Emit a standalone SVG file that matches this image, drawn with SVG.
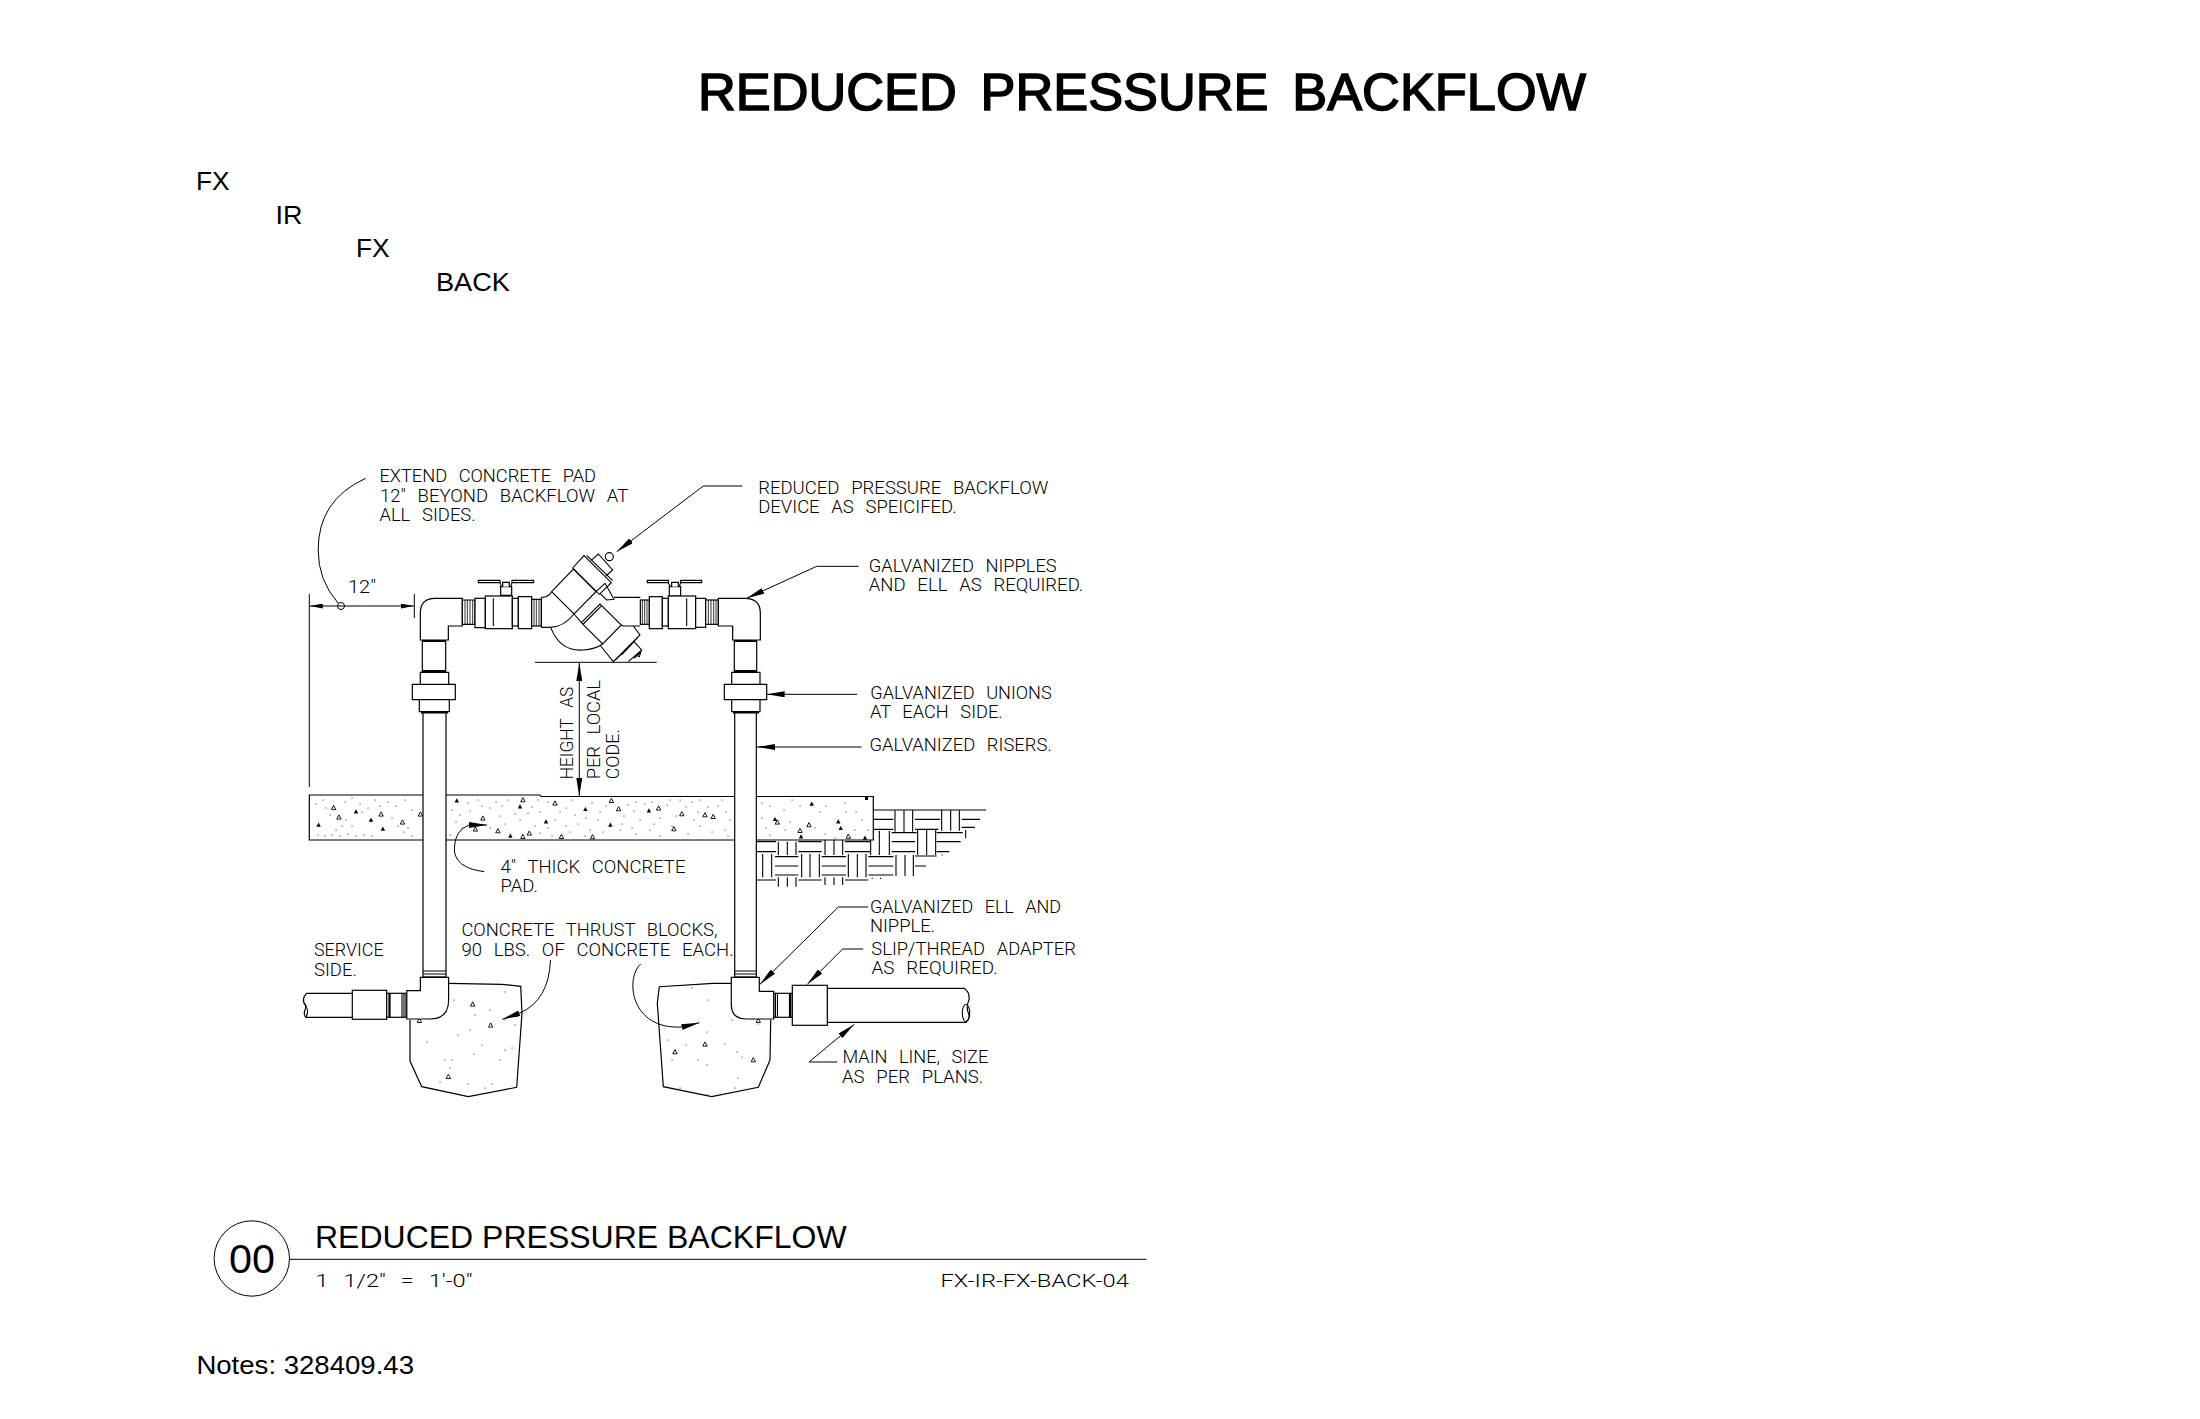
<svg xmlns="http://www.w3.org/2000/svg" width="2200" height="1419" viewBox="0 0 2200 1419">
<style>
.l{fill:none;stroke:#000;stroke-width:1.1}
.w{fill:#fff;stroke:#000;stroke-width:1.2}
.z{fill:none;stroke:#000;stroke-width:3.3}
.zh{fill:none;stroke:#000;stroke-width:2.4}
.zw{fill:#fff;stroke:#000;stroke-width:3.6}
.k{fill:none;stroke:#000;stroke-width:2.2}
.d{fill:none;stroke:#000;stroke-width:1.05;stroke-linecap:round}
.a{fill:none;stroke:#000;stroke-width:1}
.t{font-family:Roboto,"Liberation Sans",sans-serif;font-weight:300;font-size:18px;word-spacing:7px;fill:#000}
.s{font-family:"Liberation Sans",Arial,sans-serif;fill:#000}
.tf{fill:#000;stroke:none}
.to{fill:#fff;stroke:#000;stroke-width:.9}
</style>
<defs>
<marker id="ah" viewBox="0 0 18 6" refX="18" refY="3" markerWidth="18" markerHeight="6" markerUnits="userSpaceOnUse" orient="auto"><path d="M0,0 L18,3 L0,6z" fill="#000"/></marker>
<marker id="ad" viewBox="0 0 13 5" refX="13" refY="2.5" markerWidth="13" markerHeight="5" markerUnits="userSpaceOnUse" orient="auto"><path d="M0,0 L13,2.5 L0,5z" fill="#000"/></marker>
<path id="tr" d="M-2.2,1.8 L0,-2.4 L2.2,1.8z"/>
</defs>

<text id="title" x="698" y="110" class="s" font-size="51" font-weight="400" stroke="#000" stroke-width="1.5" word-spacing="9" textLength="888" lengthAdjust="spacingAndGlyphs">REDUCED PRESSURE BACKFLOW</text>

<g id="path-labels" class="s" font-size="25.6">
<text x="196" y="190" textLength="33.6" lengthAdjust="spacingAndGlyphs">FX</text>
<text x="275.6" y="224" textLength="27" lengthAdjust="spacingAndGlyphs">IR</text>
<text x="356" y="256.7" textLength="33.6" lengthAdjust="spacingAndGlyphs">FX</text>
<text x="436" y="290.7" textLength="74" lengthAdjust="spacingAndGlyphs">BACK</text>
</g>

<g id="subgrade-hatch" transform="translate(740 790) scale(.33333)">
<path class="z" d="M395 60H738M400 88H460M400 118H460M465 60V125M492 60V125M518 60V125M525 88H600M525 118H595M605 60V122M632 60V122M658 60V122M665 88H720M665 112H705M677 120V145M392 122V195M418 122V195M448 122V195M455 128H530M455 155H525M455 185H525M533 120V195M560 120V195M587 120V195M590 128H668M590 155H662M590 185H628M605 195h3M50 155H108M50 185H108M115 155V195M142 155V195M168 155V195M175 155H245M175 185H245M255 150V195M282 150V195M308 150V195M315 155H390M315 185H390M68 192V262M95 192V262M105 200H175M105 228H175M105 255H175M185 192V262M210 192V262M238 192V262M245 200H318M245 228H318M245 255H318M325 192V262M352 192V262M378 192V262M385 200H460M385 228H460M385 255H460M468 195V258M495 195V258M520 195V258M525 198H590M525 228H558M50 270H108M115 262V290M142 262V290M168 262V290M175 270H245M255 262V285M282 262V285M308 262V285M315 270H385M395 265h3M420 265h3"/>
</g>

<g id="concrete-pad">
<path class="w" d="M309.3,795H540L541,796.5H873.3V840H309.3Z"/>
<path class="d" d="M316 804h.1M323 800h.1M330 815h.1M345 802h.1M352 798h.1M360 804h.1M368 808h.1M375 800h.1M388 802h.1M396 806h.1M405 800h.1M412 810h.1M346 820h.1M352 826h.1M362 812h.1M392 818h.1M404 832h.1M398 826h.1M318 835h.1M325 836h.1M332 835h.1M340 836h.1M348 834h.1M356 836h.1M364 835h.1M372 836h.1M412 836h.1M408 828h.1M336 830h.1M452 810h.1M460 815h.1M468 803h.1M478 800h.1M490 808h.1M502 806h.1M515 814h.1M532 807h.1M540 812h.1M548 802h.1M566 808h.1M575 815h.1M592 803h.1M600 812h.1M628 805h.1M636 802h.1M645 804h.1M667 805h.1M680 800h.1M692 802h.1M700 800h.1M718 806h.1M726 812h.1M660 818h.1M640 820h.1M622 824h.1M598 820h.1M578 824h.1M555 820h.1M535 826h.1M520 820h.1M505 824h.1M490 828h.1M462 828h.1M450 835h.1M540 833h.1M552 836h.1M570 832h.1M585 836h.1M603 832h.1M620 830h.1M636 834h.1M650 830h.1M660 836h.1M672 826h.1M688 834h.1M700 826h.1M712 832h.1M725 830h.1M730 820h.1M762 803h.1M770 806h.1M784 810h.1M792 800h.1M800 806h.1M820 812h.1M826 806h.1M845 803h.1M856 812h.1M862 820h.1M868 830h.1M762 818h.1M766 828h.1M770 835h.1M785 830h.1M790 822h.1M815 828h.1M825 834h.1M835 838h.1M855 830h.1M846 812h.1M470 811h.1M482 806h.1M496 802h.1M508 800h.1M528 813h.1M538 800h.1M560 812h.1M572 800h.1M586 818h.1M606 806h.1M624 816h.1M634 811h.1M652 802h.1M670 800h.1M686 807h.1M698 812h.1M708 807h.1M722 800h.1M728 836h.1M694 820h.1M676 816h.1M654 824h.1M632 828h.1M590 830h.1M566 826h.1M548 828h.1M500 816h.1M456 822h.1M380 806h.1M326 808h.1M342 826h.1"/>
<use href="#tr" class="to" x="333.6" y="807.7"/><use href="#tr" class="to" x="338.9" y="817.3"/><use href="#tr" class="to" x="381.1" y="814.3"/><use href="#tr" class="tf" x="356" y="811.7"/><use href="#tr" class="tf" x="371" y="820"/><use href="#tr" class="tf" x="382.9" y="829"/><use href="#tr" class="to" x="402.5" y="822.3"/><use href="#tr" class="to" x="420.4" y="814.3"/><use href="#tr" class="tf" x="318.6" y="825"/><use href="#tr" class="tf" x="456.8" y="800.7"/><use href="#tr" class="to" x="522.9" y="800"/><use href="#tr" class="tf" x="520" y="806.7"/><use href="#tr" class="to" x="555" y="803.3"/><use href="#tr" class="tf" x="585.4" y="809.3"/><use href="#tr" class="to" x="611.4" y="800.7"/><use href="#tr" class="to" x="618.6" y="809"/><use href="#tr" class="tf" x="648.9" y="810.7"/><use href="#tr" class="to" x="658.6" y="808.3"/><use href="#tr" class="to" x="681.8" y="814"/><use href="#tr" class="to" x="705" y="815"/><use href="#tr" class="to" x="713.2" y="816.7"/><use href="#tr" class="to" x="482.9" y="818.3"/><use href="#tr" class="to" x="475.4" y="829.3"/><use href="#tr" class="to" x="497.9" y="831"/><use href="#tr" class="tf" x="510.4" y="836"/><use href="#tr" class="to" x="522.9" y="836.7"/><use href="#tr" class="to" x="529.3" y="833.3"/><use href="#tr" class="to" x="561.4" y="836.7"/><use href="#tr" class="to" x="592.5" y="837"/><use href="#tr" class="tf" x="610.4" y="825"/><use href="#tr" class="tf" x="546" y="821.7"/><use href="#tr" class="to" x="673.9" y="829"/><use href="#tr" class="tf" x="811.7" y="804"/><use href="#tr" class="tf" x="775" y="819.3"/><use href="#tr" class="to" x="777.3" y="822.3"/><use href="#tr" class="to" x="800" y="830.7"/><use href="#tr" class="to" x="809" y="825"/><use href="#tr" class="tf" x="801" y="836.7"/><use href="#tr" class="tf" x="838.3" y="821.7"/><use href="#tr" class="tf" x="840.7" y="828.3"/><use href="#tr" class="to" x="848.3" y="836.5"/><use href="#tr" class="tf" x="865" y="838"/><rect x="865" y="797" width="3" height="3" fill="#000"/>
</g>

<g id="thrust-block-left">
<path class="w" d="M448.3,983.3L501.7,984.3L520.7,986.3L522,1013L516.7,1087.3L468.3,1096.7L421.7,1086.7L410,1061V1020"/>
<path class="d" d="M505,992h.1M454,1000h.1M475,1015h.1M490,1010h.1M505,1020h.1M515,1025h.1M458,1035h.1M470,1030h.1M482,1045h.1M474,1054h.1M505,1050h.1M512,1048h.1M500,1060h.1M445,1060h.1M452,1060h.1M450,1068h.1M440,1082h.1M468,1084h.1M485,1088h.1M492,1084h.1M427,1042h.1"/>
<use href="#tr" class="to" x="472.7" y="1004.3"/><use href="#tr" class="to" x="490.7" y="1025.3"/><use href="#tr" class="to" x="448.3" y="1076.7"/><use href="#tr" class="to" x="419.3" y="1020.7"/>
</g>
<g id="thrust-block-right">
<path class="w" d="M731.7,983.3H713.3L659.3,986.7L657.3,1003L663.3,1086.7L711.7,1096.7L758.3,1087.3L770,1060L770.7,1020"/>
<path class="d" d="M692,988h.1M708,1000h.1M732,1020h.1M758,1024h.1M668,1040h.1M686,1045h.1M707,1032h.1M725,1044h.1M672,1060h.1M698,1060h.1M707,1065h.1M737,1052h.1M742,1057h.1M738,1078h.1M680,1088h.1M707,1095h.1M735,1088h.1"/>
<use href="#tr" class="to" x="705" y="1044.3"/><use href="#tr" class="to" x="675" y="1052"/><use href="#tr" class="to" x="753.3" y="1060"/><use href="#tr" class="to" x="758.3" y="1020.7"/>
</g>

<g id="riser-left">
<rect class="w" x="423" y="712" width="23" height="265"/>
<path class="l" d="M423,971H446M423,974H446"/>
<rect class="w" x="422.3" y="640" width="23.4" height="32"/>
<path class="k" d="M422.3,641H445.7M422.3,671H445.7M421,712.3H448"/>
<path class="w" d="M420.3,672.3H448.7V684.3H420.3ZM412.3,684.3H455.3V699.7H412.3ZM419.3,699.7H449.3V711.7H419.3Z"/>
</g>
<g id="riser-right">
<rect class="w" x="734.7" y="712" width="21.6" height="265"/>
<path class="l" d="M734.7,971H756.3M734.7,974H756.3"/>
<rect class="w" x="734.3" y="640" width="22.4" height="32"/>
<path class="k" d="M734.3,641H756.7M734.3,671H756.7M733,712.3H759"/>
<path class="w" d="M731.7,672.3H760V684.3H731.7ZM724.3,684.3H766.7V699.7H724.3ZM731.7,699.7H760V711.7H731.7Z"/>
</g>

<g id="backflow-assembly" transform="translate(410 540) scale(.33333)">
<path class="zw" d="M157 175H75Q31 175 31 220V300H115V258H157Z"/>
<path class="zw" d="M157 180H195V253H157Z"/>
<path class="zh" d="M165 180V253M172 180V253M180 180V253M188 180V253"/>
<rect class="zw" x="195" y="175" width="31" height="88"/>
<rect class="zw" x="226" y="168" width="81" height="98"/>
<path class="z" d="M250 175V258"/>
<rect class="zw" x="307" y="175" width="18" height="83"/>
<rect class="zw" x="325" y="170" width="40" height="96"/>
<rect class="zw" x="365" y="178" width="29" height="80"/>
<path class="zh" d="M372 178V258M379 178V258M387 178V258"/>
<path class="zw" d="M272 166V140H305V166Z"/>
<path class="zw" d="M278 140V127H298V140"/>
<path class="z" d="M205 121H270V128H205ZM306 121H371V128H306ZM270 128L274 140M306 128L302 140"/>
<path class="zw" d="M712 121H775V128H712ZM812 121H875V128H812Z"/>
<path class="zw" d="M778 168V140H812V168Z"/>
<path class="zw" d="M785 140V127H805V140"/>
<path class="z" d="M775 128L781 140M812 128L808 140"/>
<rect class="zw" x="691" y="180" width="27" height="73"/>
<path class="zh" d="M697 180V253M704 180V253M711 180V253"/>
<rect class="zw" x="718" y="170" width="39" height="96"/>
<rect class="zw" x="757" y="175" width="18" height="83"/>
<rect class="zw" x="775" y="168" width="82" height="98"/>
<path class="z" d="M830 175V258"/>
<rect class="zw" x="857" y="175" width="30" height="87"/>
<rect class="zw" x="887" y="180" width="38" height="73"/>
<path class="zh" d="M895 180V253M903 180V253M911 180V253M918 180V253"/>
<path class="zw" d="M925 175H1005Q1051 175 1051 220V300H968V258H925Z"/>
<path class="z" d="M394 172V262M394 172Q415 172 425 155M394 262H420Q460 262 492 222M422 262Q450 335 520 330Q555 328 578 312"/>
<path class="z" d="M425 155L490 87L558 155L492 222ZM488 84L522 47L604 128L568 163ZM530 46L608 122M543 62L565 42L608 90L588 108M558 155L585 130L612 178L590 180L570 160"/>
<circle class="z" cx="598" cy="50" r="12"/>
<path class="z" d="M612 172H691M634 255L640 258H691M492 222L514 248L570 192L634 255L578 312L514 248M520 252L575 197M572 318L610 365L690 285L670 258M616 360L684 292M635 345L672 305L695 330L655 365M672 355L692 337L688 350L678 345"/>
</g>

<g id="bottom-fittings">
<path class="w" d="M352.3,993.3H306.7Q302,998 304,1003Q307,1006 305,1010Q303,1015 306,1017.3H352.3"/>
<path class="l" d="M304,1003Q310,1010 306,1017"/>
<rect class="w" x="352.3" y="990.3" width="34.4" height="29"/>
<rect class="w" x="386.7" y="993.3" width="19.3" height="24"/>
<path class="k" d="M389.5,993.3V1017.3"/><path class="l" d="M402,993.3V1017.3M404,993.3V1017.3"/>
<path class="w" d="M420.4,977.3H448.6V1000Q448.6,1019 430,1019H406.8V990.7H420.4Z"/>
<path class="w" d="M827.3,988.3H964Q970,992 969,1000Q966,1006 968,1012Q971,1018 966,1022.3H827.3Z"/>
<ellipse class="l" cx="966" cy="1013" rx="3.7" ry="8.7"/>
<rect class="w" x="773.7" y="993.3" width="18.6" height="24"/>
<path class="k" d="M790,993.3V1017.3"/><path class="l" d="M775.5,993.3V1017.3M777.5,993.3V1017.3"/>
<rect class="w" x="792.3" y="985.3" width="35" height="40"/>
<path class="w" d="M731.3,977.3H759.3V991.3H773.7V1019H746.7Q731.3,1019 731.3,1005Z"/>
</g>

<g id="connectors">
<path class="a" d="M535,662.3H656.7"/>
<path class="a" d="M579.3,735V663" marker-end="url(#ah)"/>
<path class="a" d="M579.3,735V796" marker-end="url(#ah)"/>
<path class="a" d="M309.3,594V787M414.3,594V618"/>
<path class="a" d="M341,606H309.8" marker-end="url(#ad)"/>
<path class="a" d="M341,606H413.8" marker-end="url(#ad)"/>
<circle class="a" cx="341" cy="606" r="3.5"/>
<path class="a" d="M365.7,478.3Q318,500 318.2,550Q318,580 338,603"/>
<path class="a" d="M742.5,486H703.3L616.7,551.7" marker-end="url(#ah)"/>
<path class="a" d="M858.7,566.3H816.7L746.7,598.3" marker-end="url(#ah)"/>
<path class="a" d="M857.3,694.3H766.7" marker-end="url(#ah)"/>
<path class="a" d="M861.7,747H757" marker-end="url(#ah)"/>
<path class="a" d="M484.3,871.7Q454,868 454.3,848Q455,830 469,825H487" marker-end="url(#ah)"/>
<path class="a" d="M550.5,960Q549,1000 520,1013L502.3,1019.3" marker-end="url(#ah)"/>
<path class="a" d="M640.7,964C625,978 630,1030 682,1027L699.3,1022.7" marker-end="url(#ah)"/>
<path class="a" d="M868.3,907H838.3L760,984.3" marker-end="url(#ah)"/>
<path class="a" d="M863.3,949H842.7L807.3,984.3" marker-end="url(#ah)"/>
<path class="a" d="M837.3,1062H809L854.3,1024.3" marker-end="url(#ah)"/>
</g>

<g id="callouts">
<text class="t" x="379.4" y="481.7" textLength="216.6" lengthAdjust="spacingAndGlyphs">EXTEND CONCRETE PAD</text>
<text class="t" x="380" y="501.7" textLength="248.2" lengthAdjust="spacingAndGlyphs">12" BEYOND BACKFLOW AT</text>
<text class="t" x="379.4" y="521" textLength="96.3" lengthAdjust="spacingAndGlyphs">ALL SIDES.</text>
<text class="t" x="758.2" y="494" textLength="290.1" lengthAdjust="spacingAndGlyphs">REDUCED PRESSURE BACKFLOW</text>
<text class="t" x="758.2" y="512.7" textLength="198.5" lengthAdjust="spacingAndGlyphs">DEVICE AS SPEICIFED.</text>
<text class="t" x="868.8" y="572.3" textLength="187.9" lengthAdjust="spacingAndGlyphs">GALVANIZED NIPPLES</text>
<text class="t" x="868.8" y="591.3" textLength="214.5" lengthAdjust="spacingAndGlyphs">AND ELL AS REQUIRED.</text>
<text class="t" x="870.3" y="699" textLength="181.4" lengthAdjust="spacingAndGlyphs">GALVANIZED UNIONS</text>
<text class="t" x="870" y="718" textLength="132.7" lengthAdjust="spacingAndGlyphs">AT EACH SIDE.</text>
<text class="t" x="869.5" y="751.3" textLength="182.2" lengthAdjust="spacingAndGlyphs">GALVANIZED RISERS.</text>
<text class="t" x="348" y="593" textLength="28" lengthAdjust="spacingAndGlyphs">12"</text>
<text class="t" transform="translate(572.9 779.3) rotate(-90)" textLength="92.6" lengthAdjust="spacingAndGlyphs">HEIGHT AS</text>
<text class="t" transform="translate(600.4 779.3) rotate(-90)" textLength="99.3" lengthAdjust="spacingAndGlyphs">PER LOCAL</text>
<text class="t" transform="translate(619.3 779.3) rotate(-90)" textLength="50" lengthAdjust="spacingAndGlyphs">CODE.</text>
<text class="t" x="500.6" y="872.7" textLength="184.8" lengthAdjust="spacingAndGlyphs">4" THICK CONCRETE</text>
<text class="t" x="500.6" y="892" textLength="37.3" lengthAdjust="spacingAndGlyphs">PAD.</text>
<text class="t" x="461.4" y="936" textLength="256.1" lengthAdjust="spacingAndGlyphs">CONCRETE THRUST BLOCKS,</text>
<text class="t" x="461.4" y="955.7" textLength="272.2" lengthAdjust="spacingAndGlyphs">90 LBS. OF CONCRETE EACH.</text>
<text class="t" x="314" y="955.7" textLength="69.6" lengthAdjust="spacingAndGlyphs">SERVICE</text>
<text class="t" x="314" y="975.7" textLength="42.8" lengthAdjust="spacingAndGlyphs">SIDE.</text>
<text class="t" x="869.9" y="912.7" textLength="191.1" lengthAdjust="spacingAndGlyphs">GALVANIZED ELL AND</text>
<text class="t" x="869.9" y="931.7" textLength="65.1" lengthAdjust="spacingAndGlyphs">NIPPLE.</text>
<text class="t" x="871.3" y="955" textLength="204.7" lengthAdjust="spacingAndGlyphs">SLIP/THREAD ADAPTER</text>
<text class="t" x="871.5" y="974" textLength="126.2" lengthAdjust="spacingAndGlyphs">AS REQUIRED.</text>
<text class="t" x="842.5" y="1063.3" textLength="145.8" lengthAdjust="spacingAndGlyphs">MAIN LINE, SIZE</text>
<text class="t" x="842" y="1082.7" textLength="141.3" lengthAdjust="spacingAndGlyphs">AS PER PLANS.</text>
</g>

<g id="title-block">
<circle class="a" cx="251.8" cy="1258.5" r="37.7"/>
<path class="a" d="M289.7,1259.3H1146.5"/>
<text class="s" x="229" y="1273.3" font-size="40.5" textLength="46" lengthAdjust="spacingAndGlyphs">00</text>
<text class="s" x="315" y="1247.7" font-size="31.7" textLength="531.6" lengthAdjust="spacingAndGlyphs">REDUCED PRESSURE BACKFLOW</text>
<text class="t" x="315.5" y="1287.3" textLength="157" lengthAdjust="spacingAndGlyphs">1 1/2" = 1'-0"</text>
<text class="t" x="940.5" y="1287.3" textLength="188.3" lengthAdjust="spacingAndGlyphs">FX-IR-FX-BACK-04</text>
</g>
<text id="notes" class="s" x="196.4" y="1374" font-size="25.6" textLength="217.6" lengthAdjust="spacingAndGlyphs">Notes: 328409.43</text>
</svg>
